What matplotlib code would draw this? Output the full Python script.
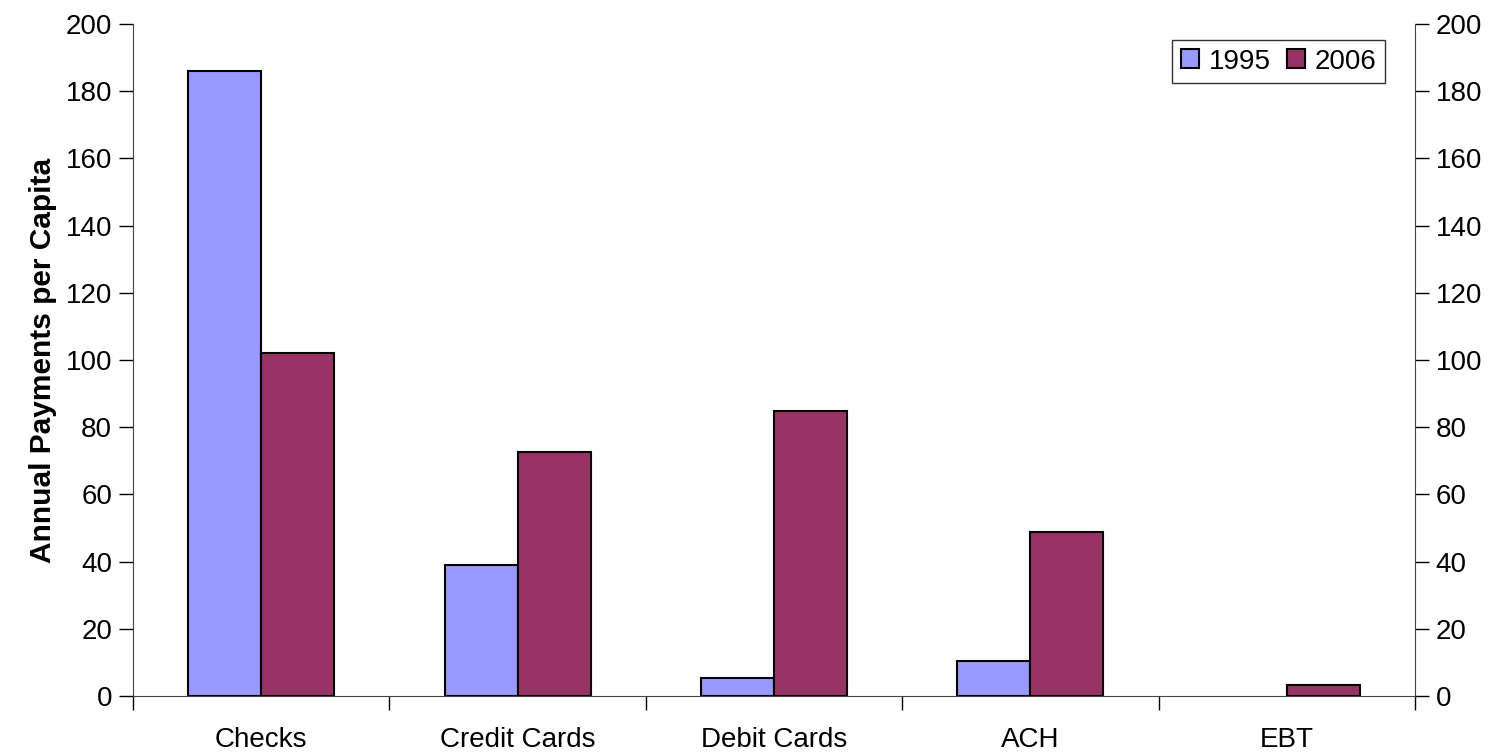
import matplotlib.pyplot as plt
import numpy as np

plt.rcParams['font.family'] = ['Liberation Sans', 'DejaVu Sans']

# data
categories = ['Checks', 'Credit Cards', 'Debit Cards', 'ACH', 'EBT']
years = ['1995', '2006']
vals_1995 = [186, 39, 5.3, 10.3, 0]
vals_2006 = [102, 72.7, 84.7, 48.8, 3.3]
colors = ['#9999FF', '#993366']

fig = plt.figure(figsize=(14.98, 7.52), dpi=100)
ax = fig.add_axes([0.0888, 0.0745, 0.8558, 0.8935])

x = np.arange(len(categories))
w = 0.285
b1 = ax.bar(x - w/2, vals_1995, w, color=colors[0], edgecolor='black', linewidth=1.5, label=years[0])
b2 = ax.bar(x + w/2, vals_2006, w, color=colors[1], edgecolor='black', linewidth=1.5, label=years[1])
# empty bars are not drawn
for p in list(b1) + list(b2):
    if p.get_height() == 0:
        p.set_visible(False)

ax.set_xlim(-0.5, len(categories) - 0.5)
ax.set_ylim(0, 200)
ax.set_yticks(np.arange(0, 201, 20))
ax.tick_params(axis='y', labelsize=20, direction='out', length=10, width=1, pad=5)

# category labels centered, ticks at boundaries
ax.set_xticks(np.arange(-0.5, len(categories)), minor=False)
ax.set_xticklabels([])
ax.set_xticks(x, minor=True)
ax.set_xticklabels(categories, minor=True, fontsize=20)
ax.tick_params(axis='x', which='major', direction='out', length=10, width=1)
ax.tick_params(axis='x', which='minor', length=0, pad=22)

ax.spines['top'].set_visible(False)
ax.spines['right'].set_visible(False)
for s in ['left', 'bottom']:
    ax.spines[s].set_color('#444444')

ax2 = ax.twinx()
ax2.set_ylim(0, 200)
ax2.set_yticks(np.arange(0, 201, 20))
ax2.tick_params(axis='y', labelsize=20, direction='out', length=10, width=1, pad=5)
ax2.spines['top'].set_visible(False)
ax2.spines['left'].set_visible(False)
ax2.spines['bottom'].set_visible(False)
ax2.spines['right'].set_color('#444444')

ax.set_ylabel('Annual Payments per Capita', fontsize=21.5, fontweight='bold', labelpad=6)

leg = ax.legend(loc='upper right', bbox_to_anchor=(0.9766, 0.976), borderaxespad=0,
                fontsize=20, frameon=True, fancybox=False, edgecolor='black',
                handlelength=0.65, handleheight=0.65, handletextpad=0.35,
                columnspacing=0.6, ncol=2, borderpad=0.3)
leg.get_frame().set_linewidth(1)

fig.savefig('out.png', dpi=100)
